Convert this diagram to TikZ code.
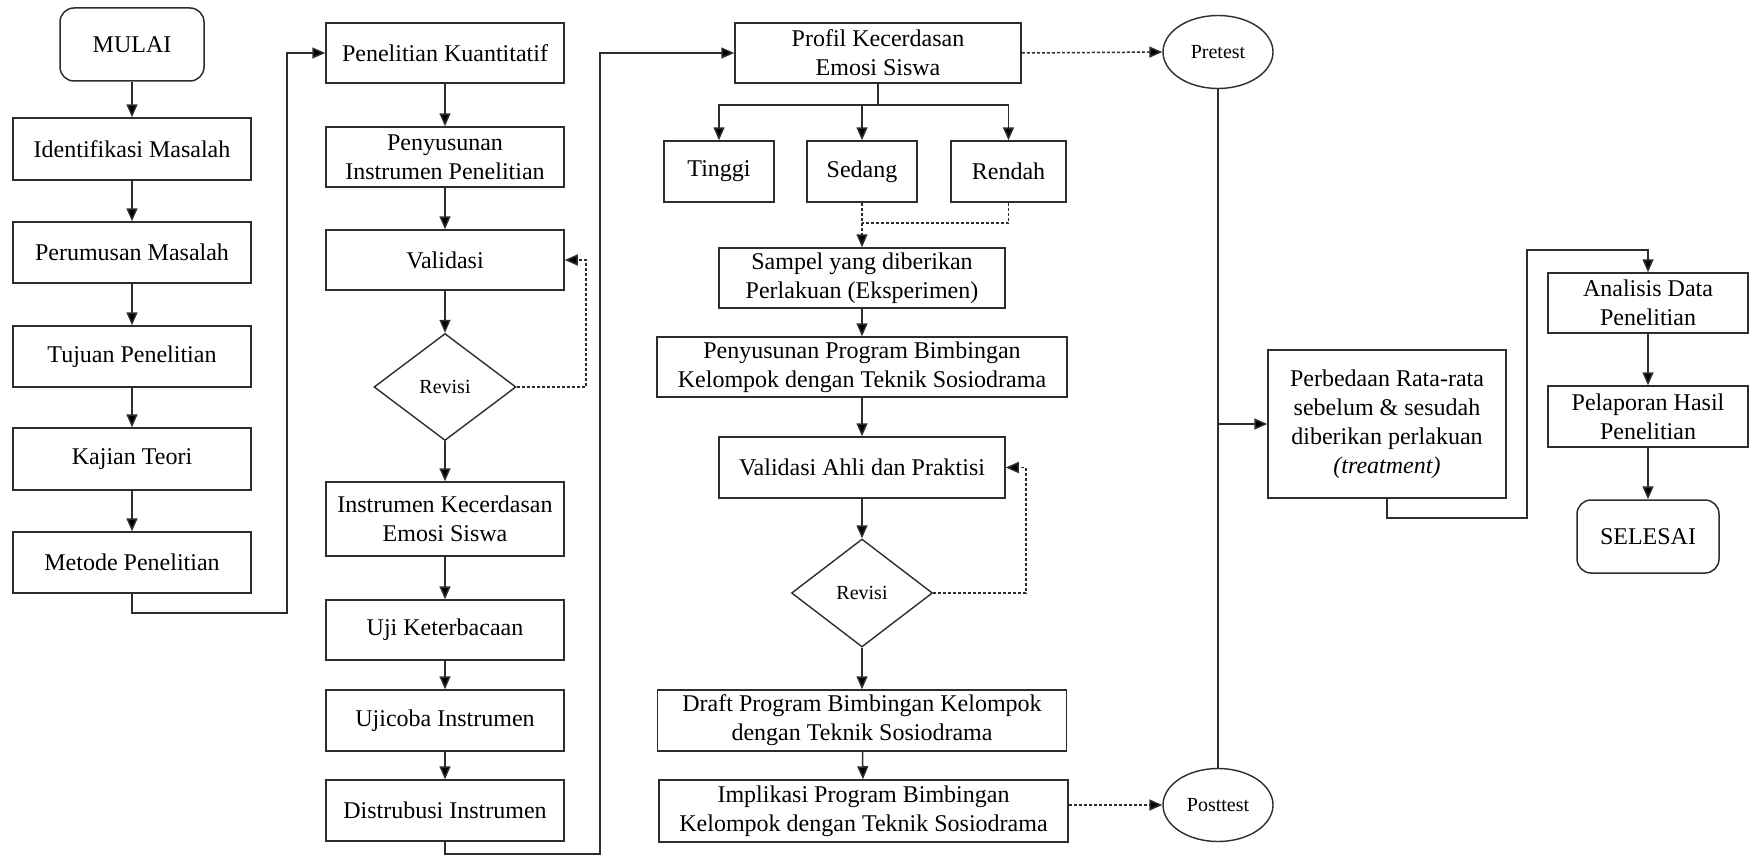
\documentclass[tikz,border=0pt]{standalone}
\usepackage{fontspec}
\setmainfont{Liberation Serif}
\usetikzlibrary{arrows.meta,shapes.geometric}
\definecolor{ln}{RGB}{45,45,45}
\tikzset{
  x=1pt,y=-1pt,
  every node/.style={font=\fontsize{24}{29}\selectfont, text=black},
  box/.style={draw=ln, line width=1.5pt, rectangle, inner sep=0pt, align=center, fill=white},
  term/.style={box, rounded corners=14pt},
  dec/.style={draw=ln, line width=1.4pt, diamond, inner sep=0pt, aspect=1.3, font=\fontsize{20}{24}\selectfont, fill=white},
  oval/.style={draw=ln, line width=1.4pt, ellipse, inner sep=0pt, font=\fontsize{20}{24}\selectfont, fill=white},
  con/.style={draw=ln, line width=1.5pt},
  arr/.style={con, -{Triangle[length=13pt,width=11pt,fill=black]}},
  dotl/.style={con, dash pattern=on 3pt off 2pt},
  dotarr/.style={dotl, -{Triangle[length=13pt,width=11pt,fill=black]}}
}
\begin{document}
\begin{tikzpicture}
\useasboundingbox (0,0) rectangle (1754,859);
% column 1
\node[term, minimum width=144, minimum height=73] (mulai) at (132,44.5) {MULAI};
\node[box, minimum width=238, minimum height=62] (ident) at (132,149) {Identifikasi Masalah};
\node[box, minimum width=238, minimum height=61] (perum) at (132,252.5) {Perumusan Masalah};
\node[box, minimum width=238, minimum height=61] (tujuan) at (132,356.5) {Tujuan Penelitian};
\node[box, minimum width=238, minimum height=62] (kajian) at (132,459) {Kajian Teori};
\node[box, minimum width=238, minimum height=61] (metode) at (132,562.5) {Metode Penelitian};
% column 2
\node[box, minimum width=238, minimum height=60] (kuant) at (445,53) {Penelitian Kuantitatif};
\node[box, minimum width=238, minimum height=60] (penyusunan) at (445,157) {Penyusunan\\Instrumen Penelitian};
\node[box, minimum width=238, minimum height=60] (validasi) at (445,260) {Validasi};
\node[dec, minimum width=142, minimum height=107] (rev1) at (445,387) {Revisi};
\node[box, minimum width=238, minimum height=74] (instr) at (445,519) {Instrumen Kecerdasan\\Emosi Siswa};
\node[box, minimum width=238, minimum height=60] (uji) at (445,630) {Uji Keterbacaan};
\node[box, minimum width=238, minimum height=61] (ujicoba) at (445,720.5) {Ujicoba Instrumen};
\node[box, minimum width=238, minimum height=61] (distr) at (445,810.5) {Distrubusi Instrumen};
% column 3
\node[box, minimum width=286, minimum height=60] (profil) at (878,53) {Profil Kecerdasan\\Emosi Siswa};
\node[box, minimum width=110, minimum height=61] (tinggi) at (719,171.5) {Tinggi};
\node[box, minimum width=110, minimum height=61] (sedang) at (862,171.5) {Sedang};
\node[box, minimum width=115, minimum height=61] (rendah) at (1008.5,171.5) {Rendah};
\node[box, minimum width=286, minimum height=60] (sampel) at (862,278) {Sampel yang diberikan\\Perlakuan (Eksperimen)};
\node[box, minimum width=410, minimum height=60] (penprog) at (862,367) {Penyusunan Program Bimbingan\\Kelompok dengan Teknik Sosiodrama};
\node[box, minimum width=286, minimum height=61] (valahli) at (862,467.5) {Validasi Ahli dan Praktisi};
\node[dec, minimum width=141, minimum height=108] (rev2) at (862,593) {Revisi};
\node[box, minimum width=409, minimum height=61] (draft) at (862,720.5) {Draft Program Bimbingan Kelompok\\dengan Teknik Sosiodrama};
\node[box, minimum width=409, minimum height=62] (impl) at (863.5,811) {Implikasi Program Bimbingan\\Kelompok dengan Teknik Sosiodrama};
% column 4
\node[oval, minimum width=110, minimum height=73] (pretest) at (1218,52) {Pretest};
\node[oval, minimum width=110, minimum height=73] (posttest) at (1218,805) {Posttest};
\node[box, minimum width=238, minimum height=148] (beda) at (1387,424) {Perbedaan Rata-rata\\sebelum \& sesudah\\diberikan perlakuan\\\textit{(treatment)}};
\node[box, minimum width=200, minimum height=60] (analisis) at (1648,303) {Analisis Data\\Penelitian};
\node[box, minimum width=200, minimum height=61] (lapor) at (1648,416.5) {Pelaporan Hasil\\Penelitian};
\node[term, minimum width=142, minimum height=73] (selesai) at (1648,536.5) {SELESAI};
% bend points
\coordinate (b1) at (287,613);
\coordinate (b2) at (600,854);
\coordinate (br) at (878,105);
\coordinate (m1) at (862,223);
\coordinate (r1) at (586,387);
\coordinate (r2) at (1026,593);
\coordinate (j1) at (1218,424);
\coordinate (c1) at (1527,518);
\coordinate (c2) at (1527,250);
% column 1 flow
\draw[arr] (mulai) -- (ident);
\draw[arr] (ident) -- (perum);
\draw[arr] (perum) -- (tujuan);
\draw[arr] (tujuan) -- (kajian);
\draw[arr] (kajian) -- (metode);
\draw[arr] (metode.south) |- (b1) |- (kuant.west);
% column 2 flow
\draw[arr] (kuant) -- (penyusunan);
\draw[arr] (penyusunan) -- (validasi);
\draw[arr] (validasi) -- (rev1);
\draw[dotarr] (rev1.east) -- (r1) |- (validasi.east);
\draw[arr] (rev1) -- (instr);
\draw[arr] (instr) -- (uji);
\draw[arr] (uji) -- (ujicoba);
\draw[arr] (ujicoba) -- (distr);
\draw[arr] (distr.south) |- (b2) |- (profil.west);
% column 3 flow
\draw[con] (profil.south) -- (br);
\draw[arr] (br) -| (tinggi.north);
\draw[arr] (br) -| (sedang.north);
\draw[arr] (br) -| (rendah.north);
\draw[dotarr] (sedang.south) -- (sampel.north);
\draw[dotl] (rendah.south) |- (m1);
\draw[arr] (sampel) -- (penprog);
\draw[arr] (penprog) -- (valahli);
\draw[arr] (valahli) -- (rev2);
\draw[dotarr] (rev2.east) -- (r2) |- (valahli.east);
\draw[arr] (rev2) -- (draft);
\draw[arr] (draft) -- (impl);
% tests
\draw[dotarr] (profil.east) -- (pretest.west);
\draw[dotarr] (impl.east |- posttest.west) -- (posttest.west);
\draw[con] (pretest.south) -- (posttest.north);
\draw[arr] (j1) -- (beda.west);
% column 4 flow
\draw[arr] (beda.south) |- (c1) -- (c2) -| (analisis.north);
\draw[arr] (analisis) -- (lapor);
\draw[arr] (lapor) -- (selesai);
\end{tikzpicture}
\end{document}
